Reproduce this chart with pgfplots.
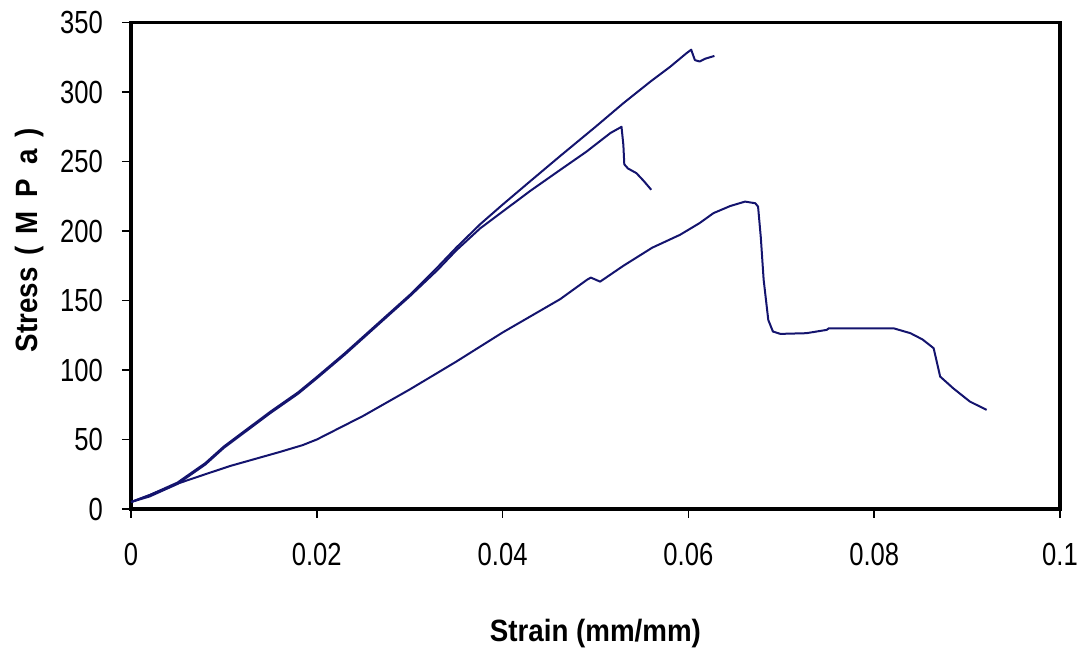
\documentclass[border=0pt]{standalone}
\usepackage{pgfplots}
\pgfplotsset{compat=1.18}
\usepackage{fontspec}
\setmainfont{Liberation Sans}
\newfontfamily\tickfont{Liberation Sans}[FakeStretch=0.8]
\newfontfamily\labfont{Liberation Sans}[FakeStretch=0.9]
\definecolor{navy}{RGB}{20,20,110}
\tikzset{curve/.style={navy, line width=1pt, line join=round, mark=none}}
\begin{document}
\begin{tikzpicture}
\useasboundingbox (-65.5pt,-71.5pt) rectangle (476.5pt,254.5pt);
\begin{axis}[
  at={(0,0)}, anchor=south west,
  scale only axis, width=464.5pt, height=243.2pt,
  xmin=0, xmax=0.1, ymin=0, ymax=350,
  axis line style={line width=1.6pt, black},
  xtick={0,0.02,0.04,0.06,0.08,0.1},
  xticklabels={0,0.02,0.04,0.06,0.08,0.1},
  ytick={0,50,100,150,200,250,300,350},
  yticklabels={0,50,100,150,200,250,300,350},
  tick align=outside, tick pos=left,
  major tick length=4.5pt,
  tick style={line width=0.8pt, black},
  ticklabel style={font=\tickfont\fontsize{16}{16}\selectfont},
  xticklabel style={yshift=-9pt},
  yticklabel style={xshift=-6pt},
  xlabel={\textbf{Strain (mm/mm)}},
  ylabel={\textbf{Stress\hspace{6pt}(\hspace{6pt}M\hspace{7pt}P\hspace{7pt}a\hspace{6pt})}},
  label style={font=\labfont\fontsize{15.4}{16}\selectfont},
  xlabel style={at={(axis description cs:0.5,0)}, anchor=base, yshift=-66.5pt},
  ylabel style={at={(axis description cs:-0.1087,0.553)}, anchor=center},
]
% Curve A (highest peak)
\addplot[curve] coordinates {
(0,5) (0.002,10) (0.005,19) (0.008,33) (0.010,45) (0.013,60) (0.015,70)
(0.018,84) (0.020,95) (0.023,112) (0.025,124) (0.028,142) (0.030,154)
(0.033,174) (0.035,188) (0.0376,205) (0.040,219) (0.043,236) (0.0462,254)
(0.050,275) (0.053,292) (0.056,308) (0.058,318) (0.0598,328) (0.0603,330.5)
(0.0607,323) (0.0612,322) (0.0618,324) (0.0628,326)
};
% Curve B
\addplot[curve] coordinates {
(0,5) (0.002,9) (0.005,18) (0.008,32) (0.010,44) (0.013,59) (0.015,69)
(0.018,83) (0.020,94) (0.023,111) (0.025,123) (0.028,141) (0.030,153)
(0.033,172) (0.035,186) (0.0376,202) (0.040,214) (0.043,229) (0.0462,244)
(0.049,257) (0.0516,270.5) (0.0528,275) (0.0530,262) (0.0531,248)
(0.0535,245) (0.0544,241.7) (0.0552,236) (0.0560,229.7)
};
% Curve C
\addplot[curve] coordinates {
(0,5) (0.002,10) (0.0049,18) (0.008,25) (0.0107,31) (0.016,41) (0.0185,46)
(0.020,50) (0.025,67) (0.030,86) (0.035,106) (0.040,127) (0.0462,151)
(0.0491,165) (0.0495,166.5) (0.0505,163.6) (0.053,175) (0.0561,188)
(0.0591,197.3) (0.0612,205.7) (0.0627,212.9) (0.0645,218) (0.0661,221.2)
(0.0672,220) (0.0675,217.6) (0.0678,195) (0.0681,165) (0.0686,136)
(0.0691,127.7) (0.0699,126) (0.0727,126.5) (0.0749,128.9) (0.0751,130)
(0.0821,130) (0.0839,126.5) (0.0852,122) (0.0864,115.7) (0.0871,95.3)
(0.0885,86.9) (0.0903,77.3) (0.0921,71.3)
};
\end{axis}
\end{tikzpicture}
\end{document}
